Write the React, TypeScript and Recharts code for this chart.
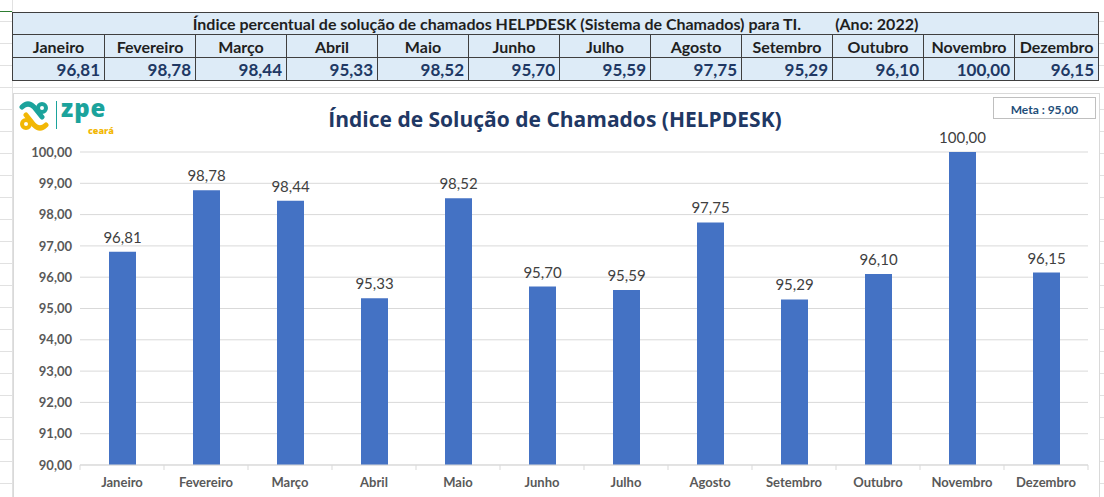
import { BarChart, Bar, XAxis, YAxis, CartesianGrid, LabelList } from "recharts";

const months = [
  "Janeiro",
  "Fevereiro",
  "Março",
  "Abril",
  "Maio",
  "Junho",
  "Julho",
  "Agosto",
  "Setembro",
  "Outubro",
  "Novembro",
  "Dezembro",
];

const indice = [96.81, 98.78, 98.44, 95.33, 98.52, 95.7, 95.59, 97.75, 95.29, 96.1, 100.0, 96.15];

const yTicks = [90, 91, 92, 93, 94, 95, 96, 97, 98, 99, 100];

const meta = 95;

const fmt = (v: number) => v.toFixed(2).replace(".", ",");

const FONT = "Lato, 'Open Sans', sans-serif";

const data = months.map((m, i) => ({ mes: m, valor: indice[i] }));

const colWidths = [92, 91, 91, 91, 91, 91, 91, 91, 91, 91, 91, 84];

function MonthTick(props: any) {
  const { x, y, payload, index } = props;
  const half = 42;
  return (
    <g>
      <line x1={x - half} x2={x - half} y1={y - 8} y2={y - 3} stroke="#D9D9D9" />
      {index === months.length - 1 && (
        <line x1={x + half} x2={x + half} y1={y - 8} y2={y - 3} stroke="#D9D9D9" />
      )}
      <text
        x={x}
        y={y + 14}
        textAnchor="middle"
        fill="#595959"
        fontSize={13}
        fontWeight={700}
        fontFamily={FONT}
      >
        {payload.value}
      </text>
    </g>
  );
}

function Logo() {
  return (
    <div style={{ position: "absolute", left: 18, top: 99, width: 110, height: 34 }}>
      <svg width={40} height={34} style={{ position: "absolute", left: 0, top: 0 }}>
        <path d="M4 8 Q10 2 16 8 L24 18" stroke="#1BA39C" strokeWidth={5} fill="none" strokeLinecap="round" />
        <circle cx={24} cy={9} r={4} stroke="#1BA39C" strokeWidth={4} fill="none" />
        <path d="M28 26 Q22 32 16 26 L8 16" stroke="#F2B705" strokeWidth={5} fill="none" strokeLinecap="round" />
        <circle cx={8} cy={25} r={4} stroke="#F2B705" strokeWidth={4} fill="none" />
      </svg>
      <div style={{ position: "absolute", left: 38, top: 2, width: 1, height: 28, background: "#1BA39C" }} />
      <div
        style={{
          position: "absolute",
          left: 43,
          top: -8,
          lineHeight: "normal",
          fontFamily: "'Open Sans', sans-serif",
          fontWeight: 800,
          fontSize: 24,
          color: "#1BA39C",
          letterSpacing: 1,
        }}
      >
        zpe
      </div>
      <div
        style={{
          position: "absolute",
          left: 70,
          top: 25,
          lineHeight: "normal",
          fontFamily: "'Open Sans', sans-serif",
          fontWeight: 800,
          fontSize: 9,
          color: "#F2B705",
        }}
      >
        ceará
      </div>
    </div>
  );
}

export default function App() {
  const cell: React.CSSProperties = {
    border: "1px solid #3F3F3F",
    padding: "0 4px",
    fontWeight: 700,
    height: 22,
    boxSizing: "border-box",
    whiteSpace: "nowrap",
  };

  return (
    <div
      style={{
        position: "relative",
        width: 1104,
        height: 497,
        overflow: "hidden",
        background: "#FFFFFF",
        backgroundImage:
          "repeating-linear-gradient(to bottom, transparent 0px, transparent 21px, #E1E1E1 21px, #E1E1E1 22px)",
        fontFamily: "Lato, 'Open Sans', sans-serif",
      }}
    >
      <style>{"body{margin:0}"}</style>
      <div style={{ position: "absolute", left: 12, top: 0, width: 1, height: 497, background: "#E1E1E1" }} />
      <div style={{ position: "absolute", left: 0, top: 11, width: 12, height: 1, background: "#2E7D32" }} />

      <table
        style={{
          position: "absolute",
          left: 12,
          top: 12,
          borderCollapse: "collapse",
          background: "#DDEBF7",
          tableLayout: "fixed",
          width: 1086,
          fontSize: 16,
          color: "#1F1F1F",
        }}
      >
        <colgroup>
          {colWidths.map((w, i) => (
            <col key={i} style={{ width: w }} />
          ))}
        </colgroup>
        <tbody>
          <tr>
            <td colSpan={12} style={{ ...cell, textAlign: "center", fontSize: 16 }}>
              Índice percentual de solução de chamados HELPDESK (Sistema de Chamados) para TI.
              <span style={{ marginLeft: 34 }}>(Ano: 2022)</span>
            </td>
          </tr>
          <tr>
            {months.map((m) => (
              <td key={m} style={{ ...cell, textAlign: "center", height: 23 }}>
                {m}
              </td>
            ))}
          </tr>
          <tr>
            {indice.map((v, i) => (
              <td
                key={i}
                style={{ ...cell, textAlign: "right", height: 23, fontSize: 17, color: "#203864" }}
              >
                {fmt(v)}
              </td>
            ))}
          </tr>
        </tbody>
      </table>

      <div
        style={{
          position: "absolute",
          left: 13,
          top: 93,
          width: 1087,
          height: 404,
          background: "#FFFFFF",
          borderTop: "1px solid #D9D9D9",
          borderLeft: "1px solid #D9D9D9",
          borderRight: "1px solid #D9D9D9",
          boxSizing: "border-box",
        }}
      >
        <BarChart
          width={1085}
          height={403}
          data={data}
          margin={{ top: 58, right: 11, left: 0, bottom: 0 }}
        >
          <CartesianGrid vertical={false} stroke="#D9D9D9" />
          <XAxis
            dataKey="mes"
            height={32}
            axisLine={{ stroke: "#D9D9D9" }}
            tickLine={false}
            interval={0}
            tick={<MonthTick />}
          />
          <YAxis
            width={66}
            domain={[90, 100]}
            ticks={yTicks}
            allowDataOverflow
            axisLine={false}
            tickLine={false}
            tickFormatter={(v: number) => fmt(v)}
            tick={{ fill: "#595959", fontSize: 13, fontWeight: 700, fontFamily: FONT }}
          />
          <Bar dataKey="valor" fill="#4472C4" barSize={27} isAnimationActive={false}>
            <LabelList
              dataKey="valor"
              position="top"
              offset={9}
              formatter={(v: any) => fmt(Number(v))}
              fill="#404040"
              fontSize={15}
              fontFamily={FONT}
            />
          </Bar>
        </BarChart>
      </div>

      <div
        style={{
          position: "absolute",
          left: 0,
          width: 1110,
          top: 105,
          textAlign: "center",
          fontSize: 21,
          fontWeight: 700,
          color: "#1F3864",
          fontFamily: "'Open Sans', sans-serif",
        }}
      >
        Índice de Solução de Chamados (HELPDESK)
      </div>

      <div
        style={{
          position: "absolute",
          left: 993,
          top: 97,
          width: 103,
          height: 22,
          border: "1px solid #BFBFBF",
          boxSizing: "border-box",
          fontSize: 12,
          fontWeight: 700,
          color: "#1F4E79",
          textAlign: "center",
          lineHeight: "24px",
        }}
      >
        Meta : {fmt(meta)}
      </div>

      <Logo />
    </div>
  );
}
